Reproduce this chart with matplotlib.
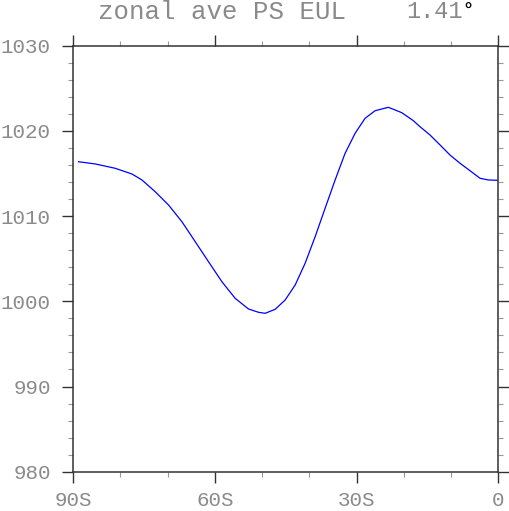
import matplotlib
matplotlib.use("Agg")
import matplotlib.pyplot as plt
from matplotlib.ticker import MultipleLocator

lat = [-88.82, -85.28, -81.06, -77.52, -75.41, -72.60, -69.78, -66.95, -64.14, -61.33,
       -58.49, -55.68, -52.87, -50.75, -49.34, -47.22, -45.11, -42.99, -40.88, -38.76,
       -36.65, -34.53, -32.42, -30.30, -28.19, -26.07, -23.26, -20.43, -17.98, -16.56,
       -14.45, -12.33, -10.22, -8.10, -5.99, -3.87, -2.12, 0.0]
ps = [1016.38, 1016.12, 1015.61, 1014.94, 1014.24, 1012.86, 1011.30, 1009.34, 1007.00, 1004.65,
      1002.30, 1000.35, 999.10, 998.71, 998.59, 999.06, 1000.15, 1001.91, 1004.46, 1007.58,
      1010.92, 1014.24, 1017.37, 1019.72, 1021.48, 1022.37, 1022.77, 1022.14, 1021.20, 1020.49,
      1019.52, 1018.35, 1017.17, 1016.20, 1015.33, 1014.44, 1014.24, 1014.20]

xticks = [-90, -60, -30, 0]
xticklabels = ["90S", "60S", "30S", "0"]
yticks = [980, 990, 1000, 1010, 1020, 1030]

W, H = 510, 511
fig = plt.figure(figsize=(W / 100, H / 100), dpi=100)
ax = fig.add_axes([73 / W, 1 - 471.7 / H, (498.3 - 73) / W, (471.7 - 45.7) / H])

ax.plot(lat, ps, color="#0000ff", lw=0.9, solid_joinstyle="round")
ax.set_xlim(-90, 0)
ax.set_ylim(980, 1030)
ax.set_xticks(xticks)
ax.set_xticklabels(xticklabels)
ax.set_yticks(yticks)
ax.xaxis.set_minor_locator(MultipleLocator(10))
ax.yaxis.set_minor_locator(MultipleLocator(2))

spine_c = "#333333"
for s in ax.spines.values():
    s.set_color(spine_c)
    s.set_linewidth(1.1)

label_c = "#8a8a8a"
ax.tick_params(which="both", direction="out", top=True, right=True,
               color=spine_c, labelcolor=label_c)
ax.tick_params(which="major", length=8, width=1.0)
ax.tick_params(which="minor", length=3.8, width=0.8, color="#999999")
ax.tick_params(axis="y", which="major", pad=8)
ax.tick_params(axis="x", which="major", pad=6)

for lab in ax.get_xticklabels() + ax.get_yticklabels():
    lab.set_fontfamily("Liberation Mono")
    lab.set_fontsize(15)

fig.text(98 / W, 1 - 12 / H, "zonal ave PS EUL", fontfamily="Liberation Mono",
         fontsize=18.5, color=label_c, ha="left", va="center")
fig.text(406 / W, 1 - 12 / H, "1.41", fontfamily="Liberation Mono",
         fontsize=17, color=label_c, ha="left", va="center")
fig.text(463 / W, 1 - 17 / H, "\u00b0", fontfamily="DejaVu Sans", fontweight="bold",
         fontsize=13, color="black", ha="left", va="baseline")

fig.savefig("out.png", dpi=100)
